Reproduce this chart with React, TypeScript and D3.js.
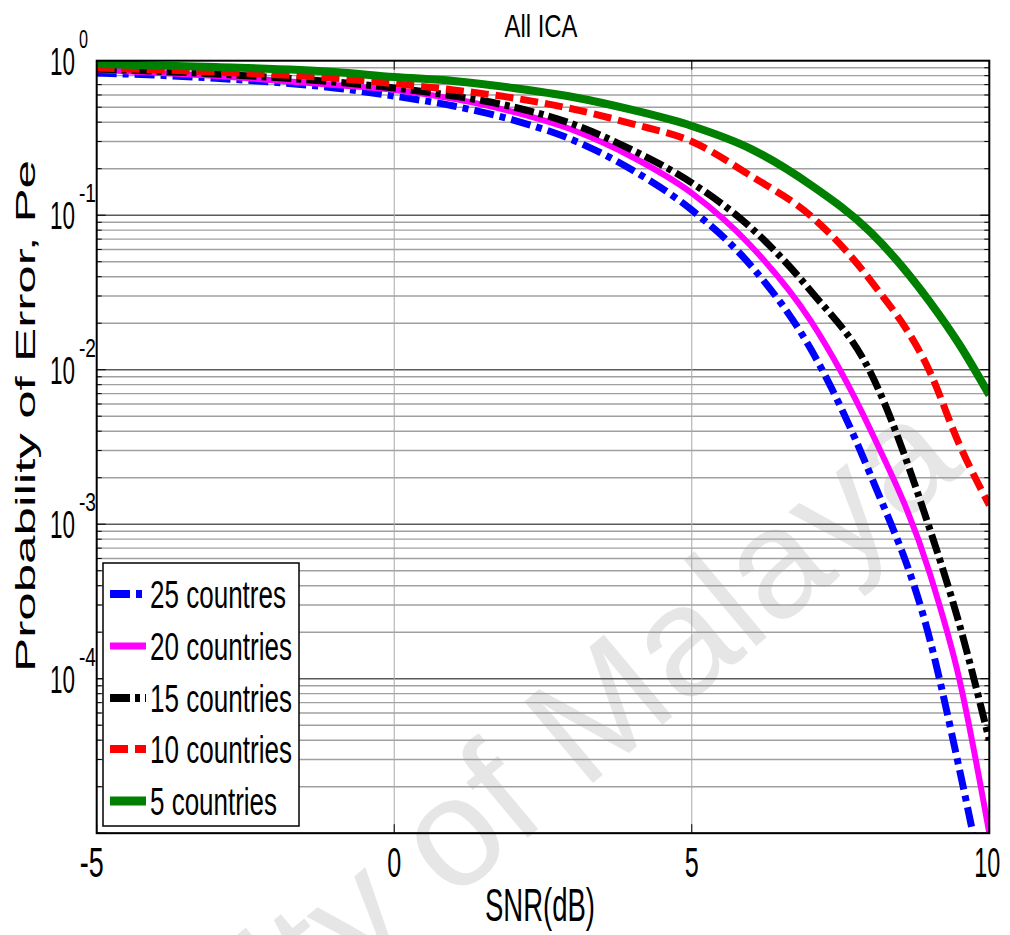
import React from 'react';
import * as d3 from 'd3';

const snr = [-5, -3, -1, 0, 1, 2, 3, 4, 5, 6, 7, 8, 9, 9.5, 10];
const pe25 = [0.833, 0.77, 0.666, 0.59, 0.509, 0.413, 0.307, 0.196, 0.108, 0.0469, 0.0136, 0.0021, 0.00018, 2.57e-5, 3e-6];
const pe20 = [0.87, 0.796, 0.696, 0.646, 0.566, 0.466, 0.356, 0.238, 0.139, 0.063, 0.0207, 0.0041, 0.00048, 9.8e-5, 1.0e-5];
const pe15 = [0.884, 0.82, 0.728, 0.666, 0.591, 0.502, 0.389, 0.264, 0.162, 0.0826, 0.0323, 0.00966, 0.00093, 0.000223, 4.0e-5];
const pe10 = [0.897, 0.845, 0.77, 0.71, 0.646, 0.574, 0.487, 0.39, 0.3, 0.179, 0.099, 0.038, 0.0097, 0.00326, 0.00133];
const pe5 = [0.952, 0.91, 0.845, 0.784, 0.739, 0.666, 0.582, 0.48, 0.378, 0.268, 0.157, 0.078, 0.0275, 0.0145, 0.00686];

const seriesNames = ['25 countres', '20 countries', '15 countries', '10 countries', '5 countries'];
const seriesColors = ['#0000ff', '#ff00ff', '#000000', '#ff0000', '#008000'];
const seriesDash = ['20,6,6,6', 'none', '20,5,5,5', '18,7', 'none'];
const seriesWidth = [7, 6, 7, 7, 8];
const seriesValues = [pe25, pe20, pe15, pe10, pe5];

const xTicks = [-5, 0, 5, 10];
const yMajor = [-4, -3, -2, -1, 0];

const W = 1010, H = 935;
const L = 96.7, R = 989.3, T = 60.7, B = 833.2;
const FONT = '"Liberation Sans", Arial, sans-serif';

export default function App() {
  const x = d3.scaleLinear().domain([-5, 10]).range([L, R]);
  const y = d3.scaleLog().domain([1e-5, 1]).range([B, T]);

  const gridVals: { v: number; major: boolean }[] = [];
  for (let k = -5; k <= -1; k++) {
    for (let m = 1; m <= 9; m++) {
      gridVals.push({ v: m * Math.pow(10, k), major: m === 1 });
    }
  }

  const makePath = (vals: number[]) =>
    d3
      .line<[number, number]>()
      .x((d) => x(d[0]))
      .y((d) => y(d[1]))
      .curve(d3.curveMonotoneX)(snr.map((s, i) => [s, vals[i]] as [number, number])) || '';

  const legendX = 103, legendY = 563, legendW = 196, legendH = 263;
  const legendRowY = [594, 646, 698, 749, 801];
  const legendTextLen = [136, 142, 142, 142, 127];

  return (
    <svg width={W} height={H} style={{ position: 'absolute', left: 0, top: 0, background: '#fff' }} fontFamily={FONT}>
      <defs>
        <clipPath id="plotClip">
          <rect x={L} y={T} width={R - L} height={B - T} />
        </clipPath>
      </defs>
      <rect x={0} y={0} width={W} height={H} fill="#fff" />
      {/* watermark */}
      <text
        x={0}
        y={0}
        textAnchor="end"
        fontSize={155}
        fill="#e6e6e6"
        transform="translate(966,470) rotate(-40)"
        fontFamily='"Liberation Sans", Arial, sans-serif'
      >
        University of Malaya
      </text>
      {/* horizontal grid */}
      {gridVals.map((g, i) => (
        <line
          key={'g' + i}
          x1={L}
          x2={R}
          y1={y(g.v)}
          y2={y(g.v)}
          stroke={g.major ? '#5a5a5a' : '#a0a0a0'}
          strokeWidth={g.major ? 1.6 : 1.4}
        />
      ))}
      {/* vertical grid */}
      {[0, 5].map((v) => (
        <line key={'vg' + v} x1={x(v)} x2={x(v)} y1={T} y2={B} stroke="#a8a8a8" strokeWidth={1} />
      ))}
      {/* ticks on left/right */}
      {gridVals.map((g, i) => (
        <g key={'t' + i}>
          <line x1={L} x2={L + (g.major ? 9 : 5)} y1={y(g.v)} y2={y(g.v)} stroke="#000" strokeWidth={1} />
          <line x1={R} x2={R - (g.major ? 9 : 5)} y1={y(g.v)} y2={y(g.v)} stroke="#000" strokeWidth={1} />
        </g>
      ))}
      {xTicks.map((v) => (
        <g key={'xt' + v}>
          <line x1={x(v)} x2={x(v)} y1={B} y2={B - 9} stroke="#000" strokeWidth={1} />
          <line x1={x(v)} x2={x(v)} y1={T} y2={T + 9} stroke="#000" strokeWidth={1} />
        </g>
      ))}
      {/* series */}
      <g clipPath="url(#plotClip)">
        {seriesValues.map((vals, i) => (
          <path
            key={'s' + i}
            d={makePath(vals)}
            fill="none"
            stroke={seriesColors[i]}
            strokeWidth={seriesWidth[i]}
            strokeDasharray={seriesDash[i]}
            strokeLinejoin="round"
          />
        ))}
      </g>
      {/* axes box */}
      <rect x={L} y={T} width={R - L} height={B - T} fill="none" stroke="#000" strokeWidth={2} />
      {/* x tick labels */}
      {xTicks.map((v) => {
        const s = String(v);
        const len = s.length === 2 ? (v < 0 ? 24 : 26) : 14;
        return (
          <text
            key={'xl' + v}
            x={x(v) + (v < 0 ? -5 : v === 10 ? -2 : 0)}
            y={877}
            textAnchor="middle"
            fontSize={42}
            textLength={len}
            lengthAdjust="spacingAndGlyphs"
          >
            {s}
          </text>
        );
      })}
      {/* y tick labels */}
      {yMajor.map((k) => {
        const yy = y(Math.pow(10, k));
        const exp = String(k);
        return (
          <g key={'yl' + k}>
            <text x={50} y={yy + 14} fontSize={39} textLength={25} lengthAdjust="spacingAndGlyphs">
              10
            </text>
            <text
              x={79}
              y={yy - 13}
              fontSize={25}
              textLength={exp.length === 1 ? 9 : 17}
              lengthAdjust="spacingAndGlyphs"
            >
              {exp}
            </text>
          </g>
        );
      })}
      {/* axis labels */}
      <text x={541} y={37} textAnchor="middle" fontSize={32} textLength={73} lengthAdjust="spacingAndGlyphs">
        All ICA
      </text>
      <text x={540} y={921} textAnchor="middle" fontSize={46} textLength={110} lengthAdjust="spacingAndGlyphs">
        SNR(dB)
      </text>
      <text
        transform="translate(35,416) rotate(-90)"
        textAnchor="middle"
        fontSize={28}
        textLength={512}
        lengthAdjust="spacingAndGlyphs"
      >
        Probability of Error, Pe
      </text>
      {/* legend */}
      <rect x={legendX} y={legendY} width={legendW} height={legendH} fill="#fff" stroke="#000" strokeWidth={1.5} />
      {seriesNames.map((name, i) => (
        <g key={'lg' + i}>
          <line
            x1={110}
            x2={146}
            y1={legendRowY[i]}
            y2={legendRowY[i]}
            stroke={seriesColors[i]}
            strokeWidth={seriesWidth[i] + 1}
            strokeDasharray={seriesDash[i]}
          />
          <text
            x={150}
            y={legendRowY[i] + 14}
            fontSize={39}
            textLength={legendTextLen[i]}
            lengthAdjust="spacingAndGlyphs"
          >
            {name}
          </text>
        </g>
      ))}
    </svg>
  );
}
